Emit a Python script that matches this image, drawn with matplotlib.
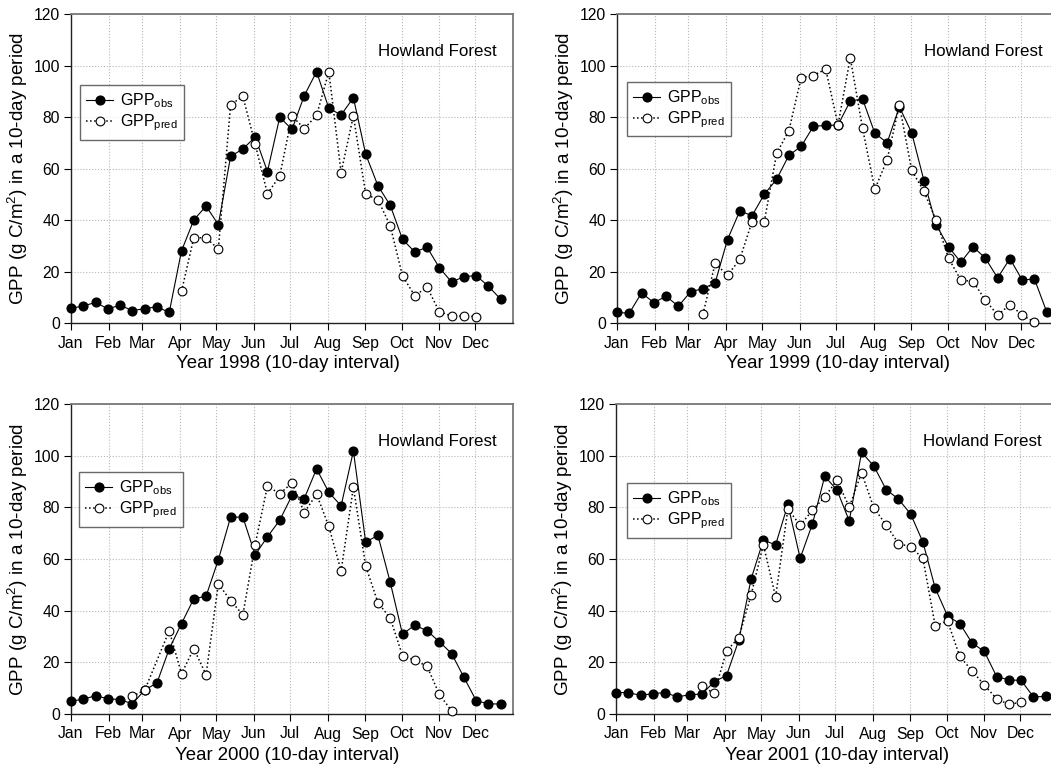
import matplotlib
matplotlib.use("Agg")
import matplotlib.pyplot as plt
import numpy as np

plt.rcParams['font.family'] = ['Liberation Sans', 'DejaVu Sans']
plt.rcParams['mathtext.default'] = 'regular'

# month tick labels, placed at the start of each month (in 10-day steps)
months = ["Jan", "Feb", "Mar", "Apr", "May", "Jun", "Jul", "Aug", "Sep", "Oct", "Nov", "Dec"]
month_start_doy = [0, 31, 59, 90, 120, 151, 181, 212, 243, 273, 304, 334]
years = [1998, 1999, 2000, 2001]

# observed GPP, one value per 10-day period (36 per year)
obs_1998 = [5.7, 6.6, 8.0, 5.5, 6.9, 4.8, 5.6, 6.3, 4.1, 28.0, 40.0, 45.4, 38.2, 64.7, 67.6, 72.2, 58.8, 79.9,
            75.2, 88.3, 97.6, 83.4, 80.8, 87.5, 65.6, 53.3, 45.7, 32.5, 27.6, 29.4, 21.5, 15.9, 18.0, 18.4, 14.3, 9.2]
obs_1999 = [4.1, 3.8, 11.7, 7.9, 10.4, 6.5, 12.2, 13.3, 15.7, 32.4, 43.5, 41.7, 50.0, 55.8, 65.1, 68.6, 76.4, 76.7,
            76.9, 86.2, 87.0, 73.7, 70.0, 83.9, 73.9, 55.3, 38.1, 29.6, 23.6, 29.6, 25.2, 17.5, 25.0, 16.7, 17.1, 4.3]
obs_2000 = [5.0, 5.7, 7.1, 5.9, 5.6, 3.9, 9.3, 12.0, 25.2, 35.0, 44.6, 45.6, 59.7, 76.2, 76.2, 61.6, 68.6, 75.0,
            84.6, 83.4, 94.9, 85.8, 80.6, 101.8, 66.6, 69.1, 51.0, 30.9, 34.4, 32.2, 28.0, 23.4, 14.2, 5.2, 3.9, 3.9]
obs_2001 = [8.3, 8.3, 7.2, 7.9, 8.3, 6.6, 7.5, 7.7, 12.5, 14.9, 28.5, 52.2, 67.3, 65.5, 81.1, 60.3, 73.6,
            92.0, 86.7, 74.7, 101.3, 96.0, 86.9, 83.2, 77.4, 66.5, 48.7, 38.0, 35.0, 27.5, 24.2, 14.5, 13.2, 13.0, 6.6, 6.8]

# predicted GPP, starting at the given 10-day period (None = no value)
pred_1998_start = 9
pred_1998 = [12.3, 33.1, 33.1, 28.7, 84.8, 88.0, 69.5, 50.2, 57.1, 80.4, 75.5, 80.6, 97.6, 58.4, 80.5, 50.1,
             47.8, 37.8, 18.3, 10.6, 13.9, 4.4, 2.7, 2.7, 2.5]
pred_1999_start = 7
pred_1999 = [3.4, 23.2, 18.5, 24.7, 39.4, 39.4, 65.9, 74.7, 95.3, 96.1, 98.6, 76.9, 103.0, 75.6, 51.9, 63.4,
             84.7, 59.3, 51.1, 39.9, 25.2, 16.7, 16.1, 8.9, 3.1, 7.1, 3.1, 0.3]
pred_2000_start = 5
pred_2000 = [6.9, 9.2, None, 32.2, 15.6, 25.3, 15.2, 50.4, 43.9, 38.4, 65.6, 88.3, 85.2, 89.5, 78.0, 85.1,
             72.6, 55.4, 87.8, 57.3, 43.1, 37.1, 22.6, 20.8, 18.5, 7.6, 1.2]
pred_2001_start = 7
pred_2001 = [10.7, 8.0, 24.4, 29.6, 46.0, 65.6, 45.3, 79.4, 73.0, 78.9, 84.0, 90.5, 80.1, 93.4, 79.8, 73.2,
             66.0, 64.7, 60.2, 34.1, 36.0, 22.3, 16.7, 11.2, 5.9, 3.7, 4.6]

obs_all = [obs_1998, obs_1999, obs_2000, obs_2001]
pred_all = [(pred_1998_start, pred_1998), (pred_1999_start, pred_1999),
            (pred_2000_start, pred_2000), (pred_2001_start, pred_2001)]

W, H = 1051, 769
fig = plt.figure(figsize=(W / 100, H / 100), dpi=100)

# axes boxes in pixels: left, top, width, height
boxes = [(71, 14, 442, 309), (617, 14, 442, 309), (71, 404, 442, 310), (616, 404, 442, 310)]
legend_pos = [(0.02, 0.77), (0.022, 0.78), (0.018, 0.78), (0.024, 0.745)]
xlabel_x = [0.49, 0.50, 0.49, 0.50]

tick_pos = np.array(month_start_doy) * 36 / 365.0

for k in range(4):
    l, t, w, h = boxes[k]
    ax = fig.add_axes([l / W, 1 - (t + h) / H, w / W, h / H])

    x_obs = np.arange(len(obs_all[k]))
    ax.plot(x_obs, obs_all[k], '-', color='black', lw=0.8, marker='o', ms=6.3,
            mfc='black', mec='black', label=r'GPP$_{obs}$', zorder=3, clip_on=False)

    start, vals = pred_all[k]
    xp = [start + i for i, v in enumerate(vals) if v is not None]
    yp = [v for v in vals if v is not None]
    ax.plot(xp, yp, ':', color='black', lw=1.1, marker='o', ms=6.3,
            mfc='white', mec='black', mew=0.8, label=r'GPP$_{pred}$', zorder=4, clip_on=False)

    ax.set_xlim(0, 36)
    ax.set_ylim(0, 120)
    ax.set_xticks(tick_pos)
    ax.set_xticklabels(months)
    ax.set_yticks(np.arange(0, 121, 20))
    ax.tick_params(labelsize=11.3, direction='out', length=5, width=0.8, pad=3)
    ax.tick_params(axis='x', pad=4)
    ax.grid(True, linestyle=':', color='#b8b8b8', lw=0.8)
    ax.set_axisbelow(True)

    for side in ['left', 'bottom']:
        ax.spines[side].set_color('#222222')
        ax.spines[side].set_linewidth(1.0)
    for side in ['top', 'right']:
        ax.spines[side].set_color('#777777')
        ax.spines[side].set_linewidth(1.3)

    ax.set_ylabel(r'GPP (g C/m$^{2}$) in a 10-day period', fontsize=13.6)
    ax.yaxis.set_label_coords(-0.092, 0.5)
    ax.set_xlabel('Year %d (10-day interval)' % years[k], fontsize=13.4)
    ax.xaxis.set_label_coords(xlabel_x[k], -0.105)

    ax.text(0.963, 0.88, 'Howland Forest', transform=ax.transAxes, ha='right', va='center', fontsize=12.2)

    leg = ax.legend(loc='upper left', bbox_to_anchor=legend_pos[k], fontsize=11.5, frameon=True,
                    fancybox=False, handlelength=1.7, handletextpad=0.4, borderpad=0.4,
                    labelspacing=0.15, borderaxespad=0.0)
    leg.get_frame().set_edgecolor('#444444')
    leg.get_frame().set_linewidth(1.0)

fig.savefig("out.png", dpi=100)
